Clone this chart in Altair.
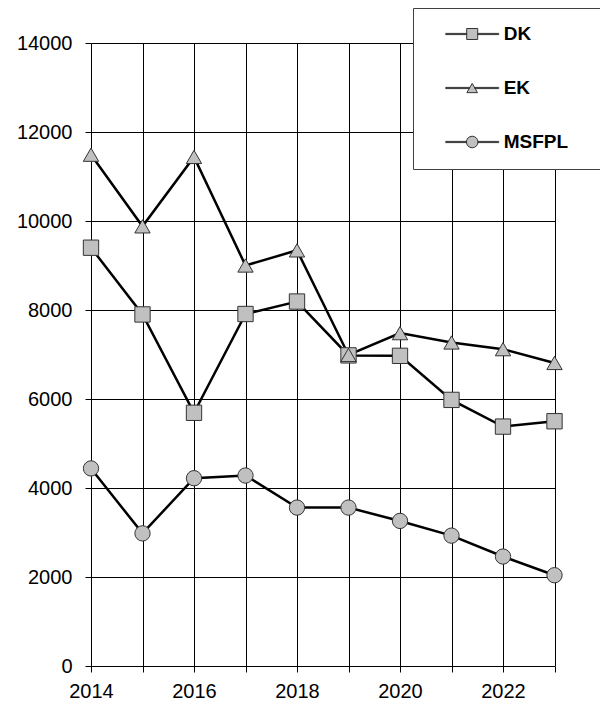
import altair as alt
import pandas as pd

# ---- data ----
years = list(range(2014, 2024))
series_names = ["DK", "EK", "MSFPL"]
dk = [9400, 7900, 5690, 7910, 8190, 6980, 6970, 5980, 5380, 5500]
ek = [11490, 9880, 11440, 9000, 9340, 6990, 7480, 7270, 7120, 6810]
msfpl = [4440, 2980, 4220, 4280, 3560, 3560, 3260, 2930, 2460, 2040]
x_ticks = years
y_ticks = [0, 2000, 4000, 6000, 8000, 10000, 12000, 14000]

rows = []
for name, vals in zip(series_names, [dk, ek, msfpl]):
    for yr, v in zip(years, vals):
        rows.append({"year": yr, "value": v, "series": name})
df = pd.DataFrame(rows)

FONT = "Liberation Sans"
MARK_FILL = "#c0c0c0"
MARK_STROKE = "#333333"

# legend symbols: a line with a marker in the middle (units scaled by sqrt(symbolSize)/2 = 9px)
t = 0.067      # half thickness of the line
L = 2.944      # half length of the line
RIGHT = "M12.2,0 "  # widens the entry so the legend box gets its right margin
leg_square = RIGHT + (f"M-{L},-{t} H-0.611 V{t} H-{L} Z "
                      "M-0.611,-0.611 H0.611 V0.611 H-0.611 Z "
                      f"M0.611,-{t} H{L} V{t} H0.611 Z")
leg_triangle = RIGHT + (f"M-{L},-{t} H-0.297 V{t} H-{L} Z "
                        "M0,-0.517 L0.594,0.517 L-0.594,0.517 Z "
                        f"M0.297,-{t} H{L} V{t} H0.297 Z")
leg_circle = RIGHT + (f"M-{L},-{t} H-0.644 V{t} H-{L} Z "
                      "M-0.644,0 A0.644,0.644 0 1,0 0.644,0 A0.644,0.644 0 1,0 -0.644,0 Z "
                      f"M0.644,-{t} H{L} V{t} H0.644 Z")

x_enc = alt.X(
    "year:Q",
    scale=alt.Scale(domain=[2014, 2023], nice=False, zero=False),
    axis=alt.Axis(
        values=x_ticks, format="d", title=None,
        labelExpr="datum.value % 2 == 0 ? datum.label : ''",
        labelOverlap=False, labelFlush=False,
        grid=True, gridColor="#000000", gridWidth=1,
        domainColor="#000000", tickColor="#000000", tickSize=6,
        labelFont=FONT, labelFontSize=20, labelColor="#000000", labelPadding=9,
    ),
)
y_enc = alt.Y(
    "value:Q",
    scale=alt.Scale(domain=[0, 14000], nice=False),
    axis=alt.Axis(
        values=y_ticks, format="d", title=None,
        labelOverlap=False, labelFlush=False,
        grid=True, gridColor="#000000", gridWidth=1,
        domainColor="#000000", tickColor="#000000", tickSize=6,
        labelFont=FONT, labelFontSize=20, labelColor="#000000", labelPadding=13,
    ),
)

base = alt.Chart(df)

lines = base.mark_line(color="#000000", strokeWidth=2.5).encode(
    x=x_enc, y=y_enc, detail="series:N"
)

points = base.mark_point(
    filled=True, fill=MARK_FILL, stroke=MARK_STROKE, strokeWidth=1, size=235, opacity=1
).encode(
    x=x_enc, y=y_enc,
    shape=alt.Shape("series:N",
                    scale=alt.Scale(domain=series_names,
                                    range=["square", "triangle-up", "circle"]),
                    legend=None),
)

# legend-only layer: no rows survive the filter, the fixed shape domain still gives the entries
legend_layer = base.mark_point(filled=True, opacity=1).encode(
    x=x_enc, y=y_enc,
    fill=alt.value(MARK_FILL),
    stroke=alt.value(MARK_STROKE),
    strokeWidth=alt.value(1),
    shape=alt.Shape(
        "series:N",
        scale=alt.Scale(domain=series_names, range=[leg_square, leg_triangle, leg_circle]),
        legend=alt.Legend(
            title=None, orient="none", legendX=322, legendY=-35,
            padding=16.5, strokeColor="#404040", fillColor="#ffffff",
            symbolSize=324, symbolStrokeWidth=1, symbolOffset=33.2, symbolOpacity=1,
            labelFont=FONT, labelFontSize=19, labelFontWeight="bold",
            labelColor="#000000", labelOffset=22, rowPadding=34,
        ),
    ),
).transform_filter("false")

chart = alt.layer(lines, points, legend_layer).resolve_scale(
    shape="independent"
).properties(
    width=463.5, height=623,
    autosize="none",
    padding={"left": 83, "top": 35, "right": 45.5, "bottom": 38},
).configure_view(strokeWidth=0)

chart.save("out.html", embed_options={"renderer": "svg", "actions": False})
